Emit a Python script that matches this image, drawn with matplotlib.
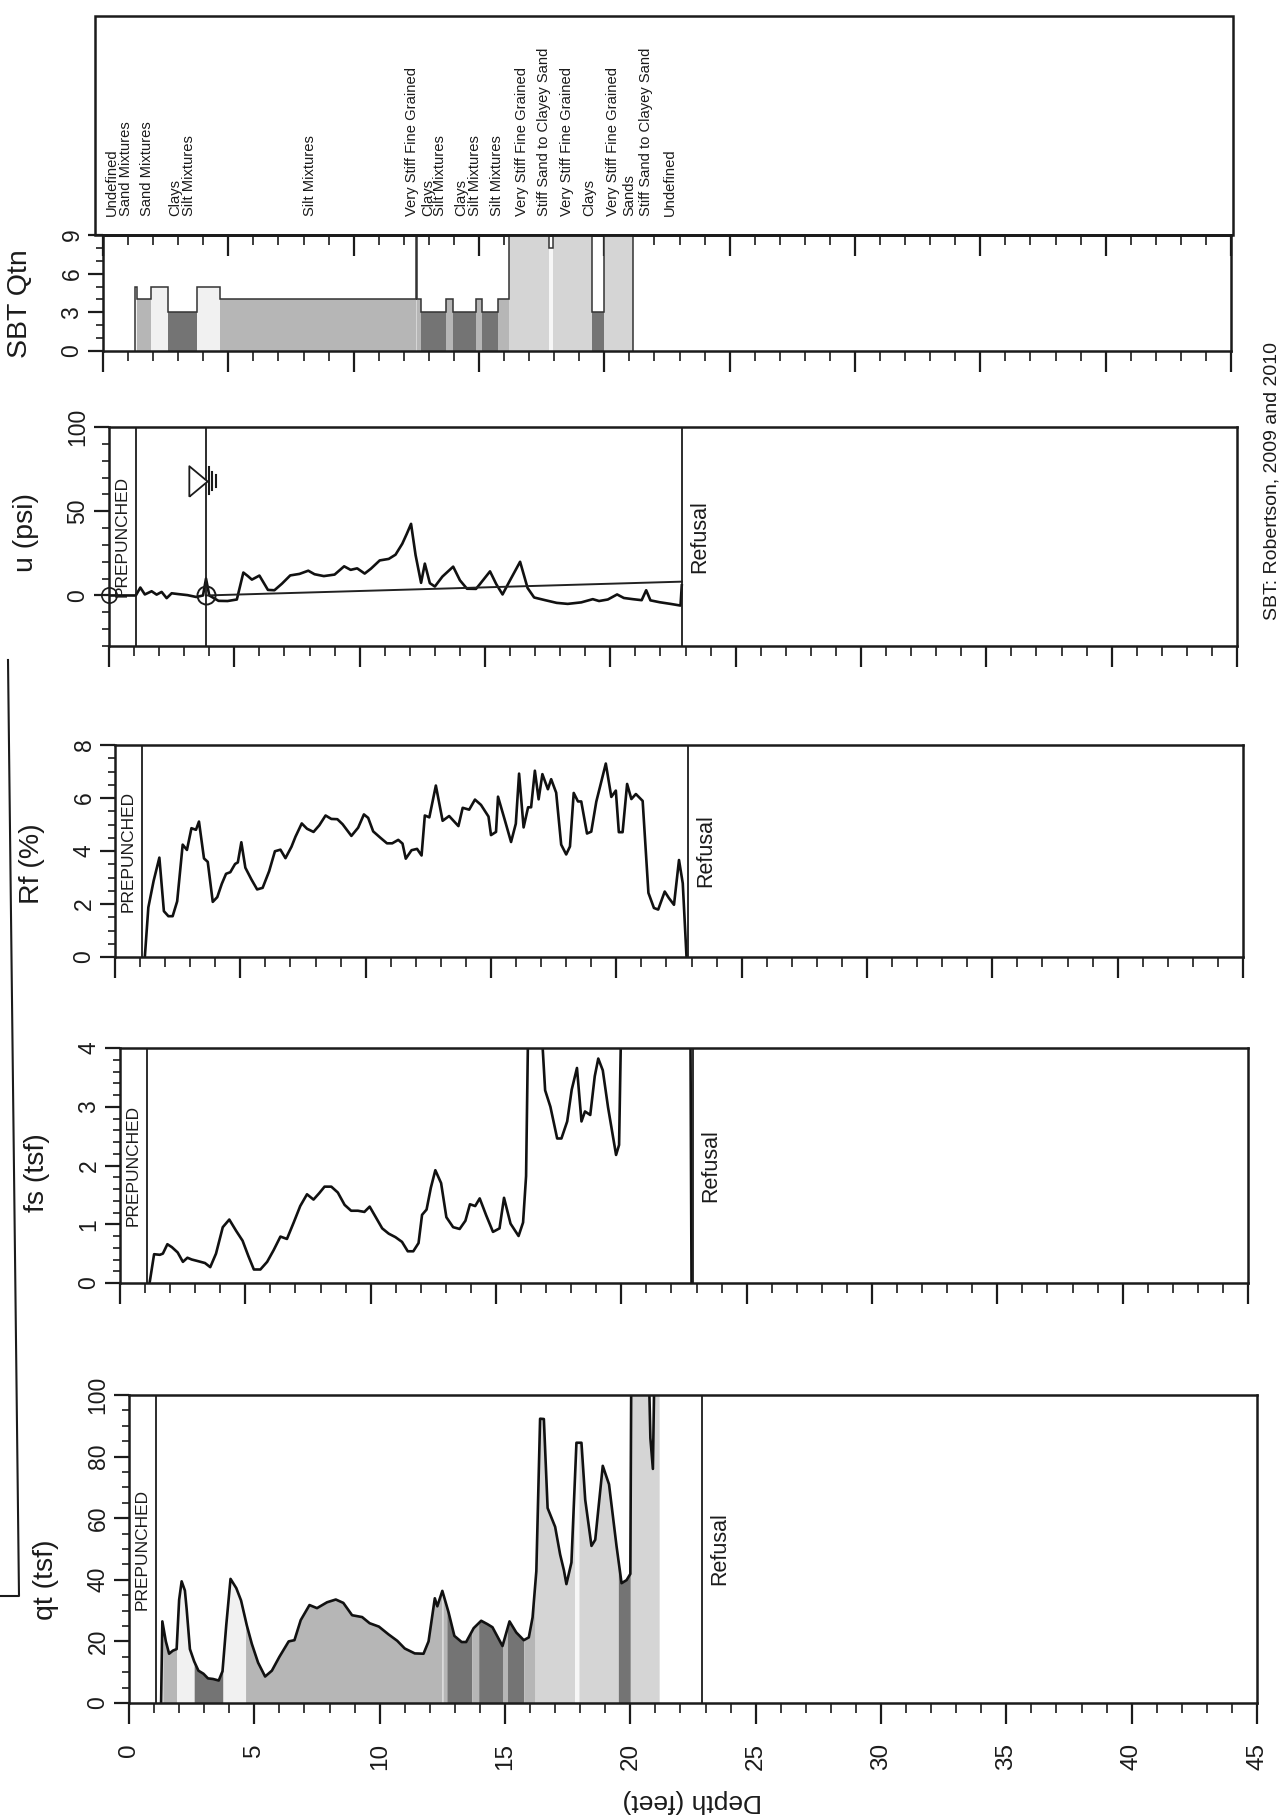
import numpy as np
import matplotlib
matplotlib.use("Agg")
import matplotlib.pyplot as plt
from matplotlib.ticker import MultipleLocator, NullFormatter
from matplotlib.transforms import blended_transform_factory
from matplotlib.lines import Line2D
from matplotlib.patches import Rectangle

plt.rcParams['font.family'] = ['Liberation Sans', 'DejaVu Sans']

# ---------------- data ----------------
qt_depth = [1.28, 1.33, 1.47, 1.6, 1.75, 1.9, 2.0, 2.1, 2.23, 2.3, 2.43, 2.6, 2.77, 2.97,
            3.15, 3.35, 3.58, 3.73, 3.88, 4.05, 4.28, 4.47, 4.7, 4.9, 5.15, 5.43, 5.7,
            6.0, 6.37, 6.6, 6.85, 7.2, 7.5, 7.9, 8.25, 8.55, 8.9, 9.3, 9.6, 9.97, 10.35,
            10.7, 11.0, 11.4, 11.75, 11.95, 12.2, 12.3, 12.5, 12.75, 12.98, 13.27, 13.45,
            13.75, 14.05, 14.3, 14.5, 14.9, 15.18, 15.45, 15.75, 15.95, 16.1, 16.25, 16.4,
            16.55, 16.7, 17.0, 17.2, 17.35, 17.45, 17.65, 17.85, 18.05, 18.2, 18.45, 18.6,
            18.9, 19.15, 19.45, 19.65, 19.85, 20.0, 20.05, 20.65, 20.8, 20.9, 21.0, 21.2]
qt_val = [0, 26.5, 20, 16, 17, 17.5, 33.5, 39.5, 36.5, 30.5, 17.5, 13.5, 10.5, 9.5,
          8, 7.8, 7.3, 10.3, 25.3, 40.3, 37.3, 33.3, 25.2, 19.2, 13.1, 8.6, 10.5,
          15, 20, 20.4, 26.9, 31.8, 30.8, 32.7, 33.6, 32.5, 28.5, 27.9, 25.9, 24.8, 22.3,
          20.2, 17.7, 16.1, 16, 20, 34, 31.4, 36.4, 29.4, 21.8, 19.8, 19.8,
          24.3, 26.7, 25.6, 24.6, 18.5, 26.5, 22.9, 20.4, 21.3, 27.8, 42.8, 92.3,
          92.2, 63.3, 57.2, 48.2, 43.1, 38.6, 45.6, 84.5, 84.5, 66, 51, 53,
          77, 71, 50.9, 38.9, 39.9, 41.9, 130, 140, 86, 76, 130, 120]

fs_depth = [1.18, 1.36, 1.59, 1.71, 1.89, 2.07, 2.3, 2.51, 2.69, 2.86, 3.13, 3.39, 3.6, 3.83,
            4.1, 4.36, 4.63, 4.89, 5.12, 5.34, 5.6, 5.87, 6.13, 6.4, 6.66, 6.93, 7.19, 7.46,
            7.72, 7.95, 8.16, 8.43, 8.69, 8.96, 9.22, 9.49, 9.75, 9.96, 10.19, 10.46, 10.72,
            10.99, 11.25, 11.48, 11.7, 11.91, 12.05, 12.23, 12.4, 12.58, 12.81, 13.02, 13.29,
            13.55, 13.78, 13.96, 14.17, 14.35, 14.61, 14.88, 15.14, 15.32, 15.58, 15.9, 16.08,
            16.2, 16.29, 16.5, 16.78, 16.96, 17.17, 17.44, 17.61, 17.84, 18.02, 18.23, 18.41,
            18.55, 18.76, 18.94, 19.08, 19.26, 19.47, 19.79, 19.91, 20.0, 21.0, 22.75, 22.8]
fs_val = [0, 0.49, 0.48, 0.5, 0.66, 0.61, 0.52, 0.36, 0.43, 0.4, 0.37, 0.34, 0.27, 0.5,
          0.95, 1.08, 0.89, 0.72, 0.46, 0.23, 0.23, 0.36, 0.56, 0.79, 0.75, 1.03, 1.31, 1.51,
          1.42, 1.53, 1.64, 1.64, 1.54, 1.33, 1.23, 1.23, 1.21, 1.3, 1.13, 0.93, 0.84,
          0.78, 0.7, 0.54, 0.54, 0.68, 1.16, 1.25, 1.62, 1.92, 1.7, 1.12, 0.95,
          0.92, 1.06, 1.34, 1.31, 1.44, 1.15, 0.87, 0.93, 1.45, 1.01, 0.8, 1.03,
          1.82, 4.6, 5.0, 4.6, 3.28, 3.0, 2.46, 2.46, 2.75, 3.29, 3.66, 2.75,
          2.92, 2.86, 3.52, 3.82, 3.62, 2.99, 2.18, 2.35, 4.6, 5.5, 5.0, 0]

rf_depth = [1.19, 1.33, 1.54, 1.77, 1.95, 2.13, 2.3, 2.48, 2.7, 2.87, 3.05, 3.23, 3.35, 3.55,
            3.7, 3.9, 4.08, 4.26, 4.43, 4.6, 4.79, 4.9, 5.04, 5.2, 5.44, 5.67, 5.89, 6.15,
            6.38, 6.6, 6.8, 7.04, 7.2, 7.45, 7.66, 7.92, 8.15, 8.4, 8.63, 8.87, 9.08, 9.43,
            9.7, 9.93, 10.1, 10.3, 10.6, 10.85, 11.06, 11.3, 11.47, 11.6, 11.83, 12.05, 12.23,
            12.36, 12.54, 12.8, 13.07, 13.33, 13.7, 13.87, 14.13, 14.36, 14.6, 14.9, 15.0,
            15.2, 15.28, 15.55, 15.8, 15.99, 16.12, 16.3, 16.48, 16.6, 16.75, 16.9, 17.05,
            17.27, 17.4, 17.6, 17.8, 18.0, 18.15, 18.3, 18.47, 18.6, 18.83, 19.0, 19.2,
            19.58, 19.8, 19.98, 20.1, 20.25, 20.43, 20.6, 20.78, 21.05, 21.28, 21.5, 21.67,
            21.93, 22.1, 22.3, 22.5, 22.65, 22.8]
rf_val = [0, 1.87, 2.87, 3.75, 1.73, 1.54, 1.54, 2.1, 4.24, 4.04, 4.86, 4.8, 5.11, 3.72,
          3.59, 2.08, 2.26, 2.76, 3.14, 3.2, 3.51, 3.57, 4.33, 3.37, 2.93, 2.55, 2.61, 3.24,
          3.99, 4.05, 3.73, 4.16, 4.54, 5.04, 4.84, 4.72, 4.97, 5.34, 5.21, 5.2, 5.01, 4.57,
          4.88, 5.38, 5.25, 4.74, 4.49, 4.29, 4.29, 4.42, 4.28, 3.71, 4.03, 4.08, 3.83,
          5.34, 5.27, 6.47, 5.14, 5.32, 4.94, 5.63, 5.56, 5.94, 5.74, 5.3, 4.6,
          4.72, 6.05, 5.17, 4.34, 5.03, 6.92, 4.89, 5.65, 5.65, 7.03, 5.95, 6.9,
          6.33, 6.71, 6.2, 4.24, 3.87, 4.17, 6.19, 5.87, 5.87, 4.66, 4.73, 5.86,
          7.3, 6.04, 6.28, 4.71, 4.71, 6.53, 5.96, 6.15, 5.89, 2.42, 1.85, 1.79,
          2.47, 2.22, 1.97, 3.66, 2.78, 0]

u_depth = [0, 1.07, 1.25, 1.43, 1.7, 1.9, 2.1, 2.3, 2.5, 2.77, 3.13, 3.48, 3.75, 3.87, 4.0,
           4.37, 4.73, 5.1, 5.36, 5.54, 5.7, 6.0, 6.34, 6.6, 6.9, 7.23, 7.6, 7.95, 8.2, 8.57,
           9.0, 9.38, 9.64, 9.9, 10.2, 10.45, 10.8, 11.16, 11.43, 11.7, 11.88, 12.05, 12.23,
           12.45, 12.6, 12.8, 13.0, 13.3, 13.73, 14.0, 14.28, 14.64, 14.8, 15.2, 15.45, 15.7,
           15.98, 16.4, 16.7, 16.96, 17.4, 17.86, 18.3, 18.84, 19.3, 19.55, 19.9, 20.27,
           20.54, 20.9, 21.25, 21.43, 21.6, 21.96, 22.4, 22.8, 22.85]
u_val = [0, 0, 4.7, 0.6, 2.5, 0.5, 2.1, -1.6, 1.3, 0.8, 0.2, -0.9, 0, 10, 0,
         -3.2, -3.3, -2.4, 13.6, 11.5, 9.4, 11.8, 3.3, 3.1, 7, 11.9, 12.8, 14.7, 12.6, 11.5,
         12.4, 17.3, 15.2, 16.1, 13, 15.9, 20.8, 21.7, 24.2, 30.7, 36.6, 42.5, 24,
         7.5, 18.9, 7.3, 5.3, 11.2, 17.1, 9, 4, 3.9, 6.8, 14.3, 6.7, 0.6,
         8.5, 20, 4.4, -1.2, -2.8, -4.4, -5, -4.1, -2.2, -3.3, -2.4, 0.6,
         -1.5, -2.2, -2.8, 3.1, -2.9, -4, -5, -6, 6]

hydro_depth = [3.87, 22.85]
hydro_u = [0.0, 8.2]
water_table_depth = 3.87
prepunch_depth = 1.07
refusal_depth = 22.85

sbt_from = [1.28, 1.35, 1.9, 2.6, 3.75, 4.65, 12.48, 12.53, 12.68, 13.67, 13.95, 14.9, 15.1,
            15.75, 16.2, 17.78, 17.95, 19.52, 20.0]
sbt_to = [1.35, 1.9, 2.6, 3.75, 4.65, 12.48, 12.53, 12.68, 13.67, 13.95, 14.9, 15.1, 15.75,
          16.2, 17.78, 17.95, 19.52, 20.0, 21.15]
sbt_zone = [5, 4, 5, 3, 5, 4, 9, 4, 3, 4, 3, 4, 3, 4, 9, 8, 9, 3, 9]
zone_colors = {3: '#747474', 4: '#b6b6b6', 5: '#f1f1f1', 6: '#e6e6e6', 8: '#f7f7f7', 9: '#d5d5d5'}

legend_labels = ['Undefined', 'Sand Mixtures', 'Sand Mixtures', 'Clays', 'Silt Mixtures',
                 'Silt Mixtures', 'Very Stiff Fine Grained', 'Clays', 'Silt Mixtures', 'Clays',
                 'Silt Mixtures', 'Silt Mixtures', 'Very Stiff Fine Grained',
                 'Stiff Sand to Clayey Sand', 'Very Stiff Fine Grained', 'Clays',
                 'Very Stiff Fine Grained', 'Sands', 'Stiff Sand to Clayey Sand', 'Undefined']
legend_depth = [0.37, 0.92, 1.76, 2.87, 3.42, 8.27, 12.34, 12.99, 13.45, 14.28, 14.83, 15.71,
                16.73, 17.61, 18.53, 19.41, 20.33, 20.98, 21.67, 22.6]

depth_max = 45

# ---------------- figure ----------------
W, H, DPI = 1282, 1818, 100
fig = plt.figure(figsize=(W / DPI, H / DPI), dpi=DPI)
fig.patch.set_facecolor('white')
INK = '#1b1b1b'
PANEL_W = 1128


def make_panel(left, top, bottom, ylim, ymaj, ymin, ylabel, ylab_y):
    ax = fig.add_axes([left / W, 1 - bottom / H, PANEL_W / W, (bottom - top) / H])
    ax.set_xlim(0, depth_max)
    ax.set_ylim(*ylim)
    ax.xaxis.set_major_locator(MultipleLocator(5))
    ax.xaxis.set_minor_locator(MultipleLocator(1))
    ax.yaxis.set_major_locator(MultipleLocator(ymaj))
    ax.yaxis.set_minor_locator(MultipleLocator(ymin))
    ax.tick_params(axis='x', which='major', direction='out', length=15, width=1.6,
                   color=INK, labelbottom=False)
    ax.tick_params(axis='x', which='minor', direction='out', length=7, width=1.2, color=INK)
    ax.tick_params(axis='y', which='major', direction='out', length=11, width=1.6,
                   color=INK, labelsize=16.5, labelrotation=90, pad=3, labelcolor=INK)
    ax.tick_params(axis='y', which='minor', direction='out', length=5, width=1.2, color=INK)
    plt.setp(ax.get_yticklabels(), va='center')
    for s in ax.spines.values():
        s.set_linewidth(1.8)
        s.set_color(INK)
    ax.set_ylabel(ylabel, fontsize=20.5, color=INK)
    ax.yaxis.set_label_coords(-70 / PANEL_W, ylab_y)
    return ax


def marks(ax, fs_pre=12.5, fs_ref=15.5):
    tr = blended_transform_factory(ax.transData, ax.transAxes)
    ax.axvline(prepunch_depth, color=INK, lw=1.3)
    ax.axvline(refusal_depth, color=INK, lw=1.3)
    ax.text(prepunch_depth / 2, 0.5, 'PREPUNCHED', transform=tr, rotation=90,
            ha='center', va='center', fontsize=fs_pre, color=INK)
    ax.text(refusal_depth + 0.3, 0.5, 'Refusal', transform=tr, rotation=90,
            ha='left', va='center', fontsize=fs_ref, color=INK)


# qt panel
ax_qt = make_panel(129, 1395, 1703, (0, 100), 20, 5, 'qt (tsf)', 0.40)
qd = np.array(qt_depth)
qv = np.array(qt_val)
for a, b, z in zip(sbt_from, sbt_to, sbt_zone):
    inside = (qd > a) & (qd < b)
    xs = np.concatenate([[a], qd[inside], [b]])
    ys = np.concatenate([[np.interp(a, qd, qv)], qv[inside], [np.interp(b, qd, qv)]])
    ax_qt.fill_between(xs, 0, ys, color=zone_colors[z], lw=0)
ax_qt.plot(qd, qv, color='#111111', lw=1.9)
marks(ax_qt)
ax_qt.tick_params(axis='x', which='major', labelbottom=True, labelrotation=90,
                  labelsize=17.5, pad=14, labelcolor=INK)
fig.text(692 / W, 1 - 1801 / H, 'Depth (feet)', rotation=180, ha='center', va='center',
         fontsize=19, color=INK)

# fs panel
ax_fs = make_panel(120, 1048, 1283, (0, 4), 1, 0.2, 'fs (tsf)', 0.47)
ax_fs.plot(fs_depth, fs_val, color='#111111', lw=1.9)
marks(ax_fs)

# Rf panel
ax_rf = make_panel(115, 745, 957, (0, 8), 2, 0.5, 'Rf (%)', 0.44)
ax_rf.plot(rf_depth, rf_val, color='#111111', lw=1.9)
marks(ax_rf)

# u panel
ax_u = make_panel(109, 427, 646, (-30, 100), 50, 10, 'u (psi)', 0.52)
ax_u.plot(u_depth, u_val, color='#111111', lw=1.9)
ax_u.plot(hydro_depth, hydro_u, color='#222222', lw=1.4)
ax_u.axvline(water_table_depth, color=INK, lw=1.3)
ax_u.plot([water_table_depth], [0], marker='o', ms=13, mfc='none', mec=INK, mew=1.4)
ax_u.plot([0], [0], marker='o', ms=11, mfc='none', mec=INK, mew=1.2, clip_on=False)
tri = [(-0.6, -1), (0.6, 0), (-0.6, 1), (-0.6, -1)]
ax_u.plot([water_table_depth - 0.3], [68], marker=tri, ms=22, mfc='white', mec=INK, mew=1.3)
for off, half in zip([0.12, 0.25, 0.38], [8, 5.5, 3.5]):
    ax_u.plot([water_table_depth + off] * 2, [68 - half, 68 + half], color=INK, lw=1.5)
marks(ax_u)

# SBT panel
ax_sbt = make_panel(103, 235, 351, (0, 9), 3, 1, 'SBT Qtn', 0.41)
widths = np.subtract(sbt_to, sbt_from)
ax_sbt.bar(sbt_from, sbt_zone, width=widths, align='edge',
           color=[zone_colors[z] for z in sbt_zone], edgecolor='none')
ax_sbt.stairs(sbt_zone, list(sbt_from) + [sbt_to[-1]], baseline=0, color='#333333', lw=1.1)
sec = ax_sbt.secondary_xaxis('top')
sec.xaxis.set_major_locator(MultipleLocator(5))
sec.xaxis.set_minor_locator(MultipleLocator(1))
sec.xaxis.set_major_formatter(NullFormatter())
sec.tick_params(axis='x', which='major', direction='in', length=15, width=1.6, color=INK)
sec.tick_params(axis='x', which='minor', direction='in', length=7, width=1.2, color=INK)
sec.spines['top'].set_linewidth(1.8)

# legend box and labels
fig.add_artist(Rectangle((95 / W, 1 - 235 / H), (1233 - 95) / W, (235 - 16) / H,
                         transform=fig.transFigure, fill=False, lw=1.8, ec=INK))
ltr = blended_transform_factory(ax_sbt.transData, fig.transFigure)
for lab, d in zip(legend_labels, legend_depth):
    fig.text(d, 1 - 216 / H, lab, transform=ltr, rotation=90, ha='center', va='bottom',
             fontsize=10.6, color=INK)

# page border line at the left and note at right edge
fig.add_artist(Line2D([8 / W, 19 / W, 0], [1 - 660 / H, 1 - 1596 / H, 1 - 1596 / H],
                      transform=fig.transFigure, color=INK, lw=1.5))
fig.text(1272 / W, 1 - 620 / H, 'SBT: Robertson, 2009 and 2010', rotation=90,
         ha='center', va='bottom', fontsize=14, color=INK)

fig.savefig('out.png', dpi=DPI, facecolor='white')
